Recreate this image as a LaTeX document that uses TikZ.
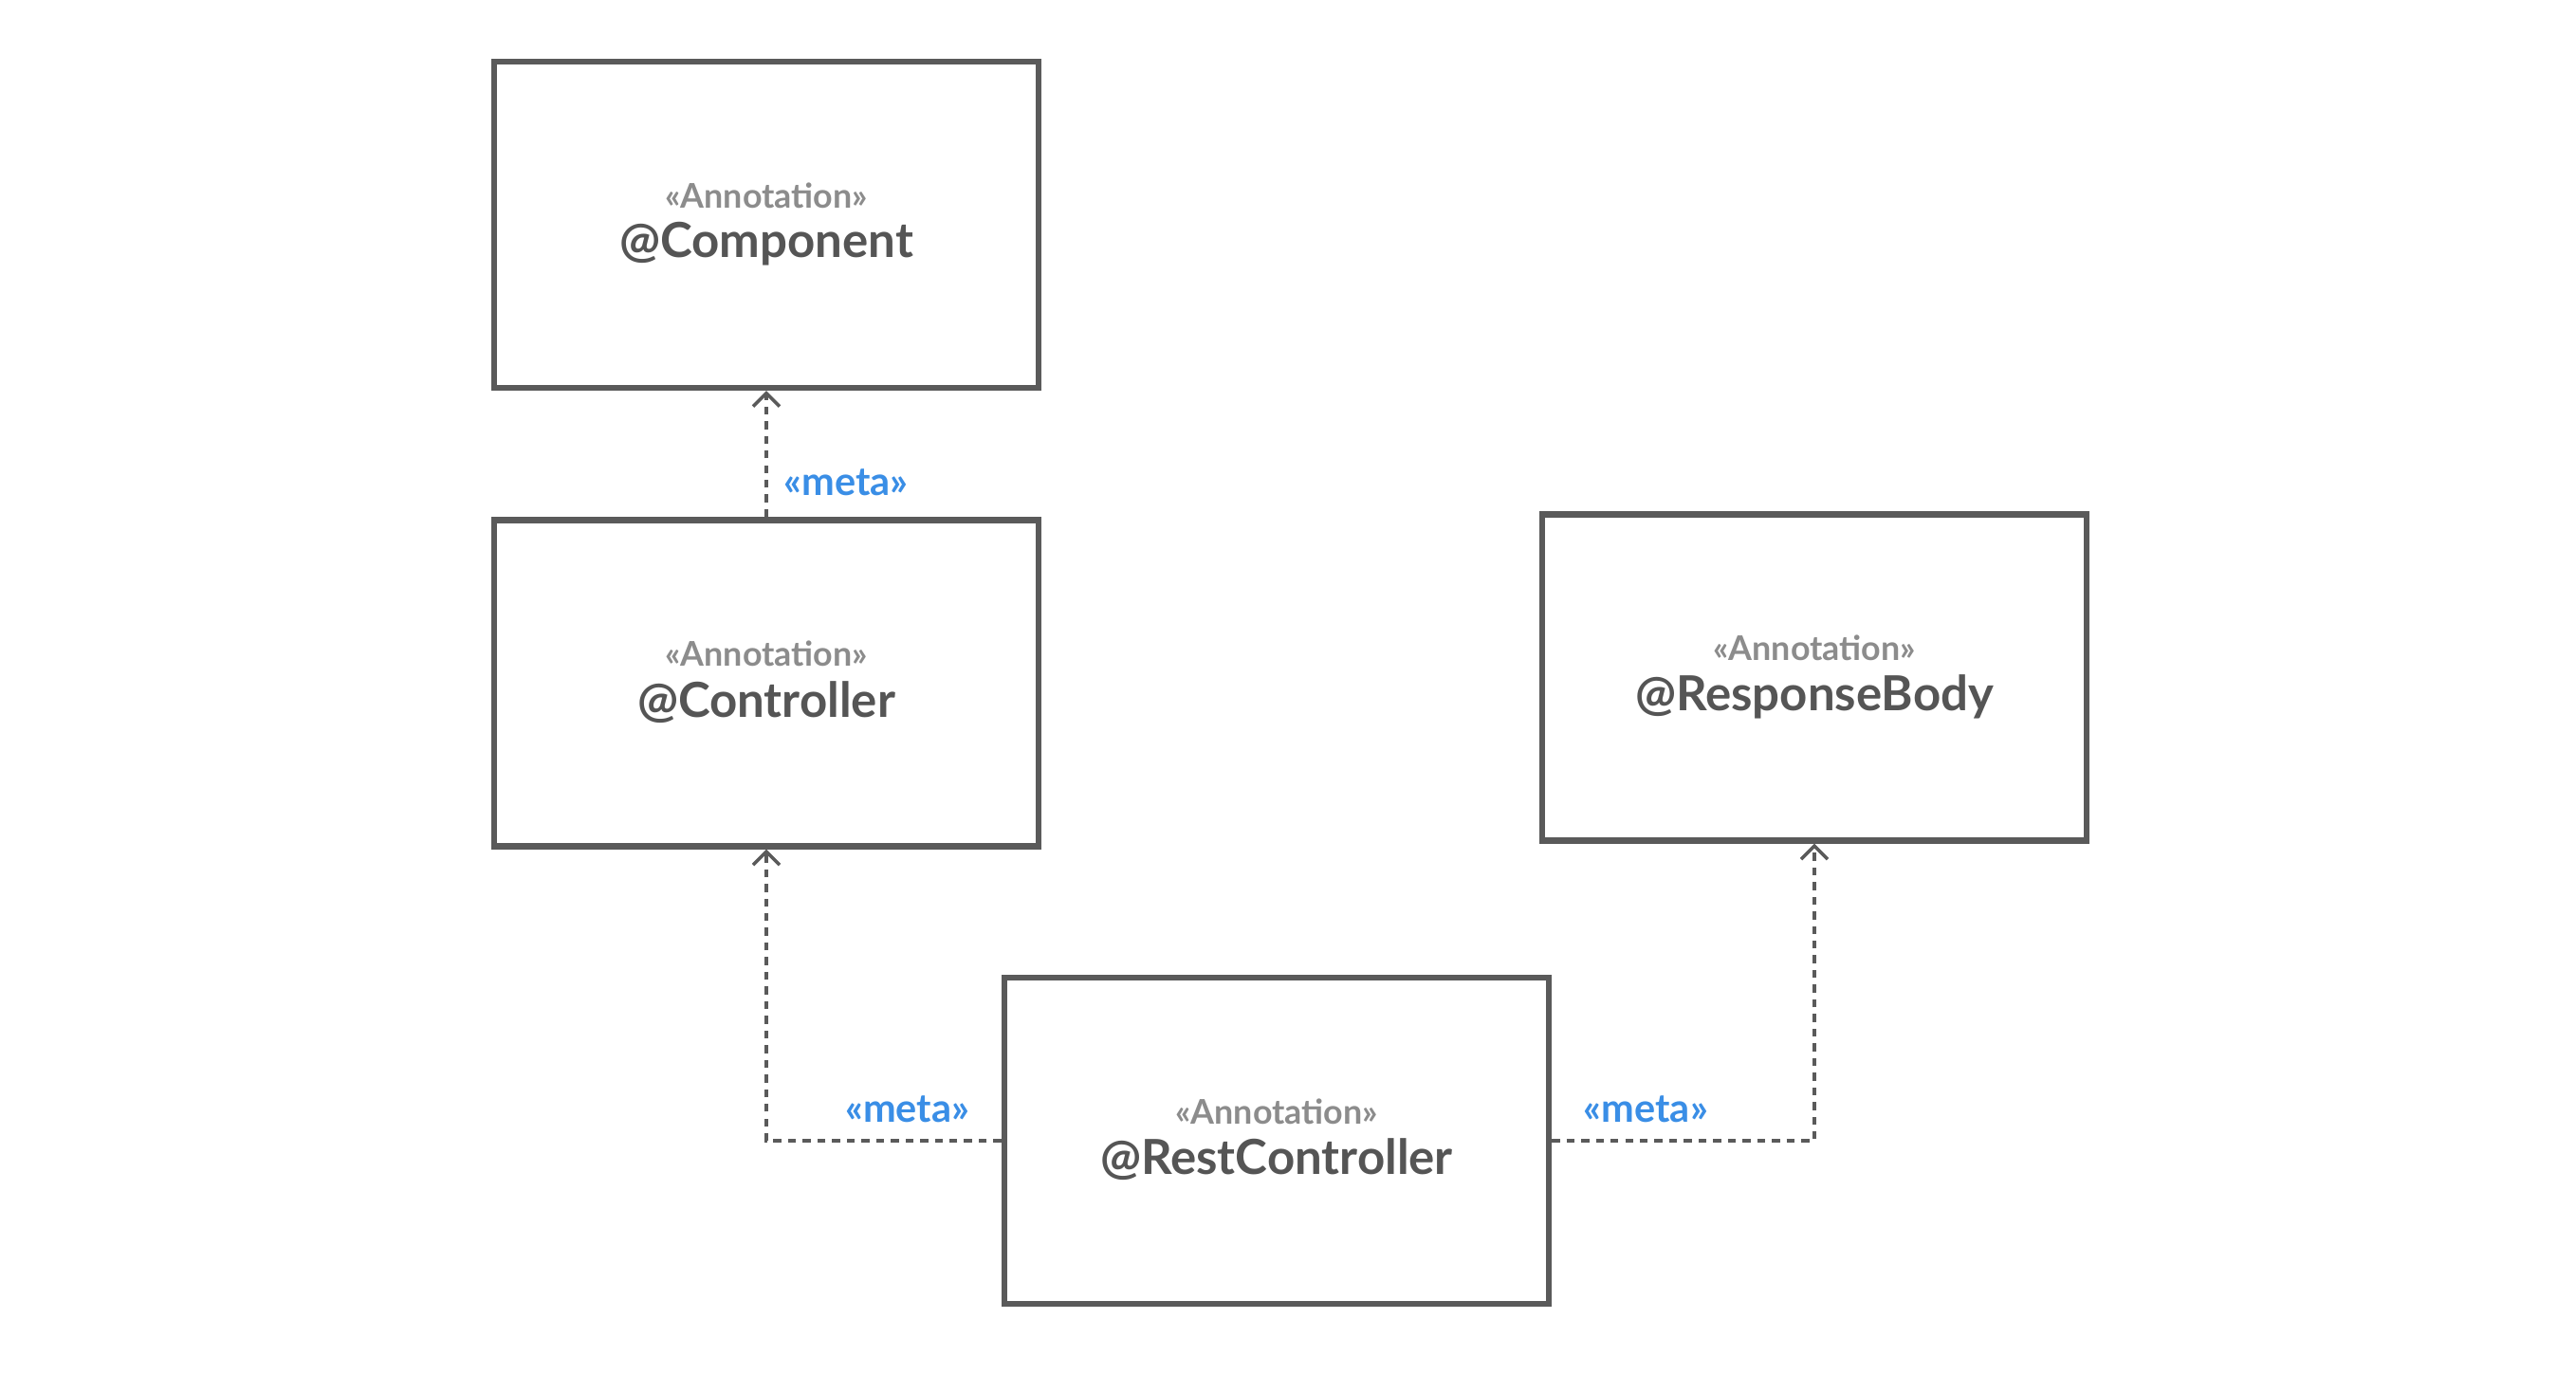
\documentclass[tikz,border=0pt]{standalone}
\usepackage{fontspec}
\setmainfont{Lato}
\usetikzlibrary{arrows.meta,calc}
\definecolor{boxline}{HTML}{5A5A5A}
\definecolor{maintext}{HTML}{555555}
\definecolor{annotext}{HTML}{8C8C8C}
\definecolor{metablue}{HTML}{3A8EE6}
\definecolor{connline}{HTML}{5A5A5A}
\tikzset{
  annobox/.style={draw=boxline, line width=1.8pt, minimum width=5.74cm, minimum height=3.44cm, inner sep=0pt},
  stereo/.style={text=annotext, font=\fontsize{10.2}{12}\selectfont\bfseries, inner sep=0pt},
  mainname/.style={text=maintext, font=\fontsize{14.5}{17}\selectfont\bfseries, inner sep=0pt},
  metalink/.style={draw=connline, line width=1pt, dash pattern=on 2.4pt off 2pt,
    -{Straight Barb[length=1.4mm,width=2.8mm,line width=1pt]}},
  metalabel/.style={text=metablue, font=\fontsize{11.8}{14}\selectfont\bfseries, inner sep=0pt}
}
\begin{document}
\begin{tikzpicture}
\useasboundingbox[fill=white] (0,0) rectangle (27.16,14.48);
% boxes
\node[annobox] (comp) at (8.08,12.11) {};
\node[annobox] (ctrl) at (8.08,7.275) {};
\node[annobox] (resp) at (19.13,7.335) {};
\node[annobox] (rest) at (13.46,2.45) {};
% texts
\node[stereo] (compS) at ($(comp.center)+(0,0.31)$) {«Annotation»};
\node[mainname] (compN) at ($(comp.center)+(0,-0.20)$) {@Component};
\node[stereo] (ctrlS) at ($(ctrl.center)+(0,0.31)$) {«Annotation»};
\node[mainname] (ctrlN) at ($(ctrl.center)+(0,-0.20)$) {@Controller};
\node[stereo] (respS) at ($(resp.center)+(0,0.31)$) {«Annotation»};
\node[mainname] (respN) at ($(resp.center)+(0,-0.20)$) {@ResponseBody};
\node[stereo] (restS) at ($(rest.center)+(0,0.31)$) {«Annotation»};
\node[mainname] (restN) at ($(rest.center)+(0,-0.20)$) {@RestController};
% connectors
\draw[metalink] (ctrl.north) -- (comp.south);
\draw[metalink] (rest.west) -| (ctrl.south);
\draw[metalink] (rest.east) -| (resp.south);
% labels
\node[metalabel, anchor=west] (m1) at ($(ctrl.north)+(0.18,0.37)$) {«meta»};
\node[metalabel, anchor=east] (m2) at ($(rest.west)+(-0.33,0.33)$) {«meta»};
\node[metalabel, anchor=west] (m3) at ($(rest.east)+(0.33,0.33)$) {«meta»};
\end{tikzpicture}
\end{document}
